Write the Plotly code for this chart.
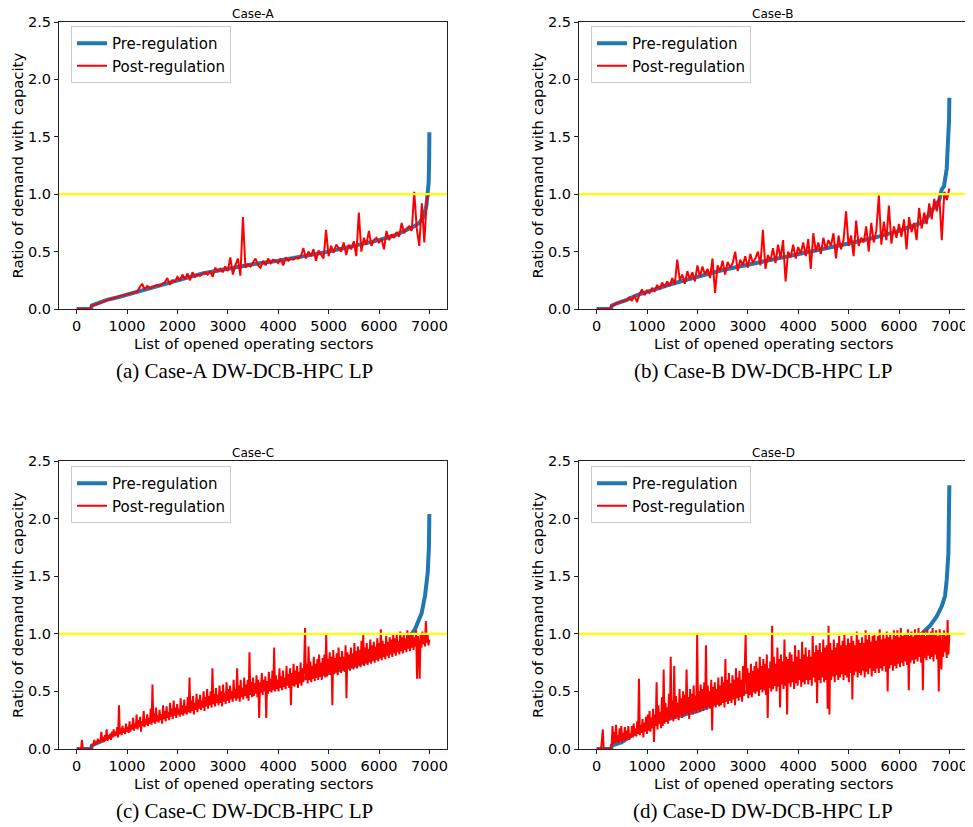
import numpy as np
import plotly.graph_objects as go

# ---------------- data ----------------
cases = ["Case-A", "Case-B", "Case-C", "Case-D"]
captions = ["(a) Case-A DW-DCB-HPC LP", "(b) Case-B DW-DCB-HPC LP",
            "(c) Case-C DW-DCB-HPC LP", "(d) Case-D DW-DCB-HPC LP"]
x_ticks = [0, 1000, 2000, 3000, 4000, 5000, 6000, 7000]
y_ticks = [0.0, 0.5, 1.0, 1.5, 2.0, 2.5]
capacity_ratio = 1.0

pre_x_a = [0, 290, 300, 400, 600, 800, 1000, 1500, 2000, 2500, 3000, 3500, 4000, 4500,
           5000, 5500, 6000, 6300, 6500, 6700, 6800, 6880, 6940, 6966, 6985, 6995, 6999]
pre_y_a = [0, 0, 0.03, 0.045, 0.08, 0.10, 0.125, 0.19, 0.255, 0.31, 0.35, 0.39, 0.42, 0.46,
           0.50, 0.55, 0.60, 0.64, 0.68, 0.72, 0.75, 0.80, 0.9, 1.0, 1.1, 1.3, 1.54]

pre_x_b = [0, 290, 300, 400, 600, 800, 1000, 1500, 2000, 2500, 3000, 3500, 4000, 4500,
           5000, 5500, 6000, 6500, 6800, 6846, 6893, 6946, 6979, 6993, 6999]
pre_y_b = [0, 0, 0.03, 0.05, 0.08, 0.12, 0.15, 0.22, 0.28, 0.34, 0.385, 0.43, 0.48, 0.52,
           0.57, 0.62, 0.68, 0.76, 0.95, 1.04, 1.07, 1.22, 1.47, 1.65, 1.84]

pre_x_c = [0, 290, 300, 500, 700, 1000, 1500, 2000, 2500, 3000, 3500, 4000, 4500, 5000,
           5500, 6000, 6500, 6600, 6714, 6846, 6913, 6966, 6990, 6999]
pre_y_c = [0, 0, 0.03, 0.07, 0.12, 0.17, 0.26, 0.33, 0.4, 0.46, 0.51, 0.56, 0.61, 0.66,
           0.72, 0.8, 0.93, 0.97, 1.04, 1.18, 1.33, 1.53, 1.75, 2.04]

pre_x_d = [0, 290, 300, 500, 700, 1000, 1500, 2000, 2500, 3000, 3500, 4000, 4500, 5000,
           5500, 6000, 6450, 6616, 6748, 6848, 6914, 6947, 6980, 6995, 6999]
pre_y_d = [0, 0, 0.03, 0.06, 0.12, 0.2, 0.27, 0.33, 0.42, 0.5, 0.56, 0.62, 0.68, 0.74,
           0.81, 0.88, 1.0, 1.07, 1.15, 1.24, 1.33, 1.47, 1.7, 2.0, 2.29]

# post-regulation ratios, sampled evenly over sectors 0..6999
post_a = [0, 0, 0, 0, 0, 0, 0.03, 0.035, 0.045, 0.05,
          0.06, 0.07, 0.08, 0.085, 0.09, 0.1, 0.105, 0.11, 0.115, 0.12,
          0.125, 0.13, 0.14, 0.145, 0.15, 0.19, 0.22, 0.17, 0.2, 0.18,
          0.19, 0.2, 0.21, 0.2, 0.22, 0.23, 0.27, 0.21, 0.25, 0.24,
          0.28, 0.25, 0.3, 0.26, 0.31, 0.25, 0.32, 0.28, 0.3, 0.29,
          0.31, 0.32, 0.3, 0.33, 0.28, 0.36, 0.33, 0.35, 0.32, 0.37,
          0.33, 0.45, 0.3, 0.38, 0.44, 0.29, 0.8, 0.36, 0.39, 0.37,
          0.4, 0.44, 0.38, 0.36, 0.42, 0.38, 0.44, 0.4, 0.43, 0.42,
          0.4, 0.44, 0.38, 0.45, 0.42, 0.44, 0.43, 0.45, 0.44, 0.46,
          0.53, 0.44, 0.5, 0.46, 0.52, 0.42, 0.51, 0.47, 0.44, 0.69,
          0.46, 0.55, 0.49, 0.56, 0.53, 0.5, 0.58, 0.47, 0.56, 0.52,
          0.59, 0.46, 0.84, 0.5, 0.62, 0.56, 0.68, 0.55, 0.6, 0.62,
          0.58, 0.61, 0.52, 0.68, 0.6, 0.65, 0.62, 0.67, 0.63, 0.75,
          0.66, 0.7, 0.72, 0.68, 1.02, 0.7, 0.55, 0.92, 0.58, 0.96,
          1.0]

post_b = [0, 0, 0, 0, 0, 0, 0.03, 0.04, 0.05, 0.06,
          0.065, 0.07, 0.08, 0.1, 0.07, 0.12, 0.06, 0.13, 0.17, 0.12,
          0.16, 0.14, 0.18, 0.15, 0.21, 0.17, 0.23, 0.19, 0.24, 0.2,
          0.27, 0.21, 0.43, 0.25, 0.3, 0.22, 0.33, 0.26, 0.32, 0.24,
          0.38, 0.28, 0.37, 0.3, 0.35, 0.27, 0.44, 0.14, 0.38, 0.33,
          0.42, 0.3, 0.41, 0.36, 0.4, 0.5, 0.33, 0.43, 0.38, 0.46,
          0.36, 0.48, 0.4, 0.44, 0.5, 0.38, 0.69, 0.35, 0.47, 0.42,
          0.53, 0.4, 0.56, 0.44, 0.6, 0.24, 0.5, 0.45, 0.56, 0.44,
          0.54, 0.48, 0.58, 0.46, 0.61, 0.35, 0.66, 0.5, 0.58, 0.48,
          0.62, 0.52, 0.6, 0.55, 0.66, 0.44, 0.64, 0.52, 0.6, 0.85,
          0.55, 0.64, 0.46, 0.77, 0.55, 0.62, 0.58, 0.72, 0.5, 0.75,
          0.58, 0.68, 0.99, 0.56, 0.76, 0.6, 0.9, 0.57, 0.72, 0.62,
          0.74, 0.63, 0.78, 0.52, 0.8, 0.67, 0.75, 0.6, 0.88, 0.7,
          0.84, 0.74, 0.92, 0.78, 0.96, 0.85, 0.98, 0.6, 1.02, 0.95,
          1.05]

post_c = [0, 0, 0, 0, 0, 0, 0.08, 0, 0, 0, 0, 0, 0, 0, 0, 0, 0, 0.02, 0.04, 0.03,
          0.08, 0.04, 0.06, 0.05, 0.09, 0.05, 0.07, 0.06, 0.15, 0.07, 0.1, 0.06, 0.12, 0.08, 0.17, 0.07, 0.11, 0.09, 0.13, 0.08,
          0.15, 0.1, 0.17, 0.11, 0.14, 0.12, 0.19, 0.1, 0.38, 0.13, 0.18, 0.12, 0.2, 0.14, 0.17, 0.13, 0.22, 0.15, 0.19, 0.14,
          0.24, 0.15, 0.21, 0.17, 0.27, 0.16, 0.22, 0.18, 0.3, 0.17, 0.25, 0.19, 0.28, 0.15, 0.24, 0.2, 0.33, 0.19, 0.26, 0.21,
          0.3, 0.2, 0.27, 0.22, 0.35, 0.21, 0.56, 0.23, 0.31, 0.22, 0.36, 0.24, 0.29, 0.23, 0.34, 0.25, 0.3, 0.22, 0.38, 0.26,
          0.33, 0.24, 0.37, 0.27, 0.32, 0.25, 0.4, 0.28, 0.35, 0.26, 0.42, 0.29, 0.36, 0.27, 0.39, 0.3, 0.34, 0.28, 0.44, 0.3,
          0.38, 0.29, 0.43, 0.31, 0.37, 0.3, 0.45, 0.32, 0.62, 0.31, 0.42, 0.33, 0.46, 0.3, 0.4, 0.34, 0.48, 0.32, 0.43, 0.35,
          0.47, 0.34, 0.42, 0.36, 0.5, 0.33, 0.45, 0.37, 0.52, 0.35, 0.46, 0.38, 0.5, 0.36, 0.7, 0.39, 0.48, 0.37, 0.53, 0.4,
          0.47, 0.38, 0.55, 0.4, 0.5, 0.37, 0.56, 0.41, 0.49, 0.39, 0.58, 0.42, 0.52, 0.4, 0.55, 0.43, 0.5, 0.41, 0.6, 0.44,
          0.52, 0.42, 0.7, 0.44, 0.55, 0.41, 0.6, 0.45, 0.53, 0.43, 0.62, 0.46, 0.56, 0.44, 0.6, 0.42, 0.84, 0.47, 0.58, 0.45,
          0.62, 0.46, 0.57, 0.48, 0.64, 0.45, 0.6, 0.27, 0.58, 0.49, 0.66, 0.47, 0.6, 0.5, 0.63, 0.27, 0.59, 0.48, 0.67, 0.5,
          0.61, 0.49, 0.68, 0.51, 0.88, 0.5, 0.64, 0.52, 0.6, 0.5, 0.7, 0.53, 0.63, 0.51, 0.68, 0.54, 0.62, 0.52, 0.72, 0.55,
          0.65, 0.53, 0.7, 0.38, 0.66, 0.55, 0.74, 0.54, 0.68, 0.56, 0.72, 0.53, 0.67, 0.57, 0.75, 0.55, 0.7, 0.58, 0.73, 1.05,
          0.6, 0.74, 0.57, 0.89, 0.6, 0.76, 0.58, 0.72, 0.61, 0.8, 0.59, 0.74, 0.62, 0.78, 0.6, 0.82, 0.63, 0.75, 0.6, 0.79,
          0.64, 0.82, 0.62, 0.99, 0.63, 0.78, 0.66, 0.84, 0.64, 0.8, 0.38, 0.86, 0.65, 0.79, 0.67, 0.83, 0.64, 0.88, 0.68, 0.8,
          0.66, 0.85, 0.69, 0.8, 0.67, 0.9, 0.44, 0.84, 0.7, 0.82, 0.68, 0.88, 0.71, 0.83, 0.69, 0.92, 0.72, 0.85, 0.7, 0.89,
          0.73, 0.86, 0.71, 0.94, 0.74, 0.99, 0.72, 0.88, 0.75, 0.92, 0.73, 0.87, 0.76, 0.95, 0.74, 0.9, 0.77, 0.93, 0.75, 0.89,
          0.78, 0.96, 0.76, 0.92, 0.79, 1.04, 0.77, 0.94, 0.8, 0.91, 0.78, 0.98, 0.81, 0.93, 0.79, 0.97, 0.82, 0.95, 0.8, 0.99,
          0.83, 0.96, 0.81, 1.0, 0.84, 0.94, 0.82, 1.02, 0.85, 0.97, 0.83, 0.99, 0.86, 0.95, 0.84, 1.03, 0.87, 0.98, 0.85, 1.01,
          0.88, 1.0, 0.86, 0.97, 0.89, 1.03, 0.61, 0.98, 0.9, 0.61, 1.0, 0.88, 1.02, 0.91, 0.99, 0.89, 1.11, 0.92, 1.0, 0.9,
          0.95]

post_d = [0, 0, 0, 0, 0, 0, 0.08, 0.17, 0, 0, 0, 0, 0, 0, 0, 0, 0, 0.02, 0.2, 0.04,
          0.15, 0.05, 0.21, 0.06, 0.12, 0.05, 0.18, 0.07, 0.2, 0.06, 0.14, 0.08, 0.19, 0.07, 0.16, 0.09, 0.2, 0.08, 0.13, 0.1,
          0.2, 0.1, 0.22, 0.12, 0.18, 0.11, 0.24, 0.13, 0.61, 0.12, 0.21, 0.14, 0.26, 0.1, 0.23, 0.15, 0.28, 0.13, 0.3, 0.16,
          0.33, 0.15, 0.27, 0.18, 0.35, 0.06, 0.3, 0.2, 0.58, 0.17, 0.38, 0.22, 0.32, 0.18, 0.45, 0.2, 0.69, 0.22, 0.4, 0.24,
          0.36, 0.22, 0.48, 0.25, 0.8, 0.27, 0.42, 0.24, 0.72, 0.26, 0.46, 0.28, 0.4, 0.25, 0.52, 0.3, 0.44, 0.27, 0.5, 0.29,
          0.47, 0.3, 0.69, 0.31, 0.45, 0.26, 0.52, 0.32, 0.48, 0.3, 0.55, 0.33, 0.46, 0.31, 0.99, 0.34, 0.5, 0.32, 0.56, 0.35,
          0.52, 0.33, 0.58, 0.36, 0.9, 0.34, 0.55, 0.37, 0.5, 0.35, 0.6, 0.16, 0.54, 0.38, 0.58, 0.36, 0.52, 0.39, 0.62, 0.37,
          0.55, 0.38, 0.63, 0.4, 0.58, 0.36, 0.78, 0.41, 0.6, 0.39, 0.66, 0.42, 0.57, 0.4, 0.64, 0.43, 0.6, 0.38, 0.7, 0.44,
          0.62, 0.42, 0.68, 0.45, 0.6, 0.41, 0.72, 0.46, 0.65, 0.99, 0.48, 0.7, 0.44, 0.66, 0.47, 0.74, 0.45, 0.68, 0.49, 0.72,
          0.48, 0.76, 0.5, 0.7, 0.46, 0.8, 0.52, 0.72, 0.49, 0.78, 0.51, 0.74, 0.47, 0.82, 0.27, 0.7, 0.53, 0.76, 0.5, 1.07,
          0.52, 0.8, 0.55, 0.74, 0.5, 0.88, 0.54, 0.78, 0.36, 0.82, 0.56, 0.76, 0.52, 0.95, 0.55, 0.8, 0.3, 0.78, 0.57, 0.84,
          0.54, 0.82, 0.58, 0.76, 0.52, 0.9, 0.57, 0.8, 0.55, 0.86, 0.6, 0.78, 0.54, 0.93, 0.58, 0.82, 0.56, 0.88, 0.6, 0.8,
          0.56, 0.86, 0.6, 0.8, 0.55, 0.98, 0.62, 0.84, 0.58, 0.9, 0.4, 0.86, 0.6, 0.92, 0.57, 0.84, 0.62, 0.95, 0.58, 0.88,
          0.6, 0.9, 0.35, 1.07, 0.3, 0.92, 0.6, 0.86, 0.63, 0.95, 0.58, 0.88, 0.64, 0.92, 0.6, 0.98, 0.62, 0.9, 0.65, 0.94,
          0.6, 1.0, 0.64, 0.9, 0.62, 0.96, 0.58, 0.92, 0.66, 0.98, 0.43, 0.94, 0.64, 0.9, 0.67, 1.02, 0.62, 0.95, 0.66, 0.92,
          0.64, 0.97, 0.68, 0.92, 0.62, 1.03, 0.67, 0.95, 0.65, 0.99, 0.7, 0.93, 0.63, 0.98, 0.68, 1.0, 0.66, 0.94, 0.7, 0.98,
          0.66, 1.04, 0.7, 0.95, 0.68, 1.0, 0.72, 0.96, 0.67, 1.02, 0.5, 0.97, 0.7, 1.0, 0.73, 0.95, 0.68, 1.03, 0.72, 0.98,
          0.7, 1.03, 0.74, 0.97, 0.71, 1.05, 0.75, 0.98, 0.72, 1.0, 0.76, 0.99, 0.73, 1.04, 0.51, 0.98, 0.75, 1.02, 0.77, 0.97,
          0.74, 1.04, 0.78, 0.99, 0.76, 1.05, 0.8, 0.98, 0.75, 1.0, 0.51, 1.03, 0.79, 0.98, 0.77, 1.04, 0.81, 0.99, 0.78, 1.02,
          0.8, 1.05, 0.76, 0.99, 0.82, 1.03, 0.78, 0.98, 0.5, 1.04, 0.83, 0.69, 1.0, 0.8, 1.03, 0.84, 0.98, 0.79, 1.12, 0.82,
          1.0]

pre_x = [pre_x_a, pre_x_b, pre_x_c, pre_x_d]
pre_y = [pre_y_a, pre_y_b, pre_y_c, pre_y_d]
post = [post_a, post_b, post_c, post_d]
n_sectors = 7000

# ---------------- layout geometry (window pixels) ----------------
OFF = 8                      # page body margin
FIG_W, FIG_H = 965, 819      # figure fills the window after the body margin


def px(x):
    return (x - OFF) / FIG_W


def py(y):
    return 1 - (y - OFF) / FIG_H


panels = [  # left, right, top, bottom of axes box in window px
    (59, 447, 22, 309),
    (579, 967, 22, 309),
    (59, 447, 461, 749),
    (579, 967, 461, 749),
]
legend_pos = [(71, 26), (591, 26), (71, 466), (591, 466)]

FONT = "DejaVu Sans"
fig = go.Figure()
annotations = []
shapes = []

for k in range(4):
    sfx = "" if k == 0 else str(k + 1)
    xa, ya = "x" + sfx, "y" + sfx
    leg = "legend" if k == 0 else "legend" + str(k + 1)
    fig.add_trace(go.Scatter(
        x=pre_x[k], y=pre_y[k], mode="lines", name="Pre-regulation",
        line=dict(color="#1f77b4", width=4), xaxis=xa, yaxis=ya, legend=leg))
    xs = np.linspace(0, n_sectors - 1, len(post[k]))
    fig.add_trace(go.Scatter(
        x=xs, y=post[k], mode="lines", name="Post-regulation",
        line=dict(color="#ff0000", width=2), xaxis=xa, yaxis=ya, legend=leg))

    l, r, t, b = panels[k]
    axis_common = dict(showgrid=False, zeroline=False, showline=True, mirror=True,
                       linecolor="#222222", linewidth=1, ticks="outside", ticklen=4,
                       tickwidth=1, tickcolor="#222222", automargin=False,
                       tickfont=dict(family=FONT, size=14.5, color="black"))
    fig.update_layout(**{
        "xaxis" + sfx: dict(domain=[px(l), px(r)], range=[-350, 7349], tickvals=x_ticks,
                            anchor=ya, **axis_common),
        "yaxis" + sfx: dict(domain=[py(b), py(t)], range=[0, 2.5], tickvals=y_ticks,
                            tickformat=".1f", anchor=xa, **axis_common),
    })
    shapes.append(dict(type="line", xref=xa + " domain", yref=ya, x0=0, x1=1,
                       y0=capacity_ratio, y1=capacity_ratio,
                       line=dict(color="#ffff00", width=2.2), layer="above"))
    cx = (l + r) / 2
    annotations.append(dict(text=cases[k], x=px(cx), y=py(t - 8), xref="paper", yref="paper",
                            showarrow=False, font=dict(family=FONT, size=12, color="black"),
                            xanchor="center", yanchor="middle"))
    annotations.append(dict(text="List of opened operating sectors", x=px(cx), y=py(b + 34),
                            xref="paper", yref="paper", showarrow=False,
                            font=dict(family=FONT, size=14.8, color="black"),
                            xanchor="center", yanchor="middle"))
    annotations.append(dict(text="Ratio of demand with capacity", x=px(l - 42),
                            y=py((t + b) / 2), xref="paper", yref="paper", showarrow=False,
                            textangle=-90, font=dict(family=FONT, size=14.8, color="black"),
                            xanchor="center", yanchor="middle"))
    annotations.append(dict(text=captions[k], x=px(cx - 9 if k % 2 == 0 else cx - 10),
                            y=py(b + 62), xref="paper", yref="paper", showarrow=False,
                            font=dict(family="Liberation Serif", size=21, color="black"),
                            xanchor="center", yanchor="middle"))
    lx, ly = legend_pos[k]
    fig.update_layout(**{leg: dict(x=px(lx), y=py(ly), xanchor="left", yanchor="top",
                                   bgcolor="rgba(255,255,255,0.85)", bordercolor="#cccccc",
                                   borderwidth=1,
                                   font=dict(family=FONT, size=15, color="black"))})

fig.update_layout(template="none", width=FIG_W, height=FIG_H,
                  margin=dict(l=0, r=0, t=0, b=0, pad=0, autoexpand=False),
                  paper_bgcolor="white", plot_bgcolor="white",
                  annotations=annotations, shapes=shapes)

fig.write_html("out.html")
